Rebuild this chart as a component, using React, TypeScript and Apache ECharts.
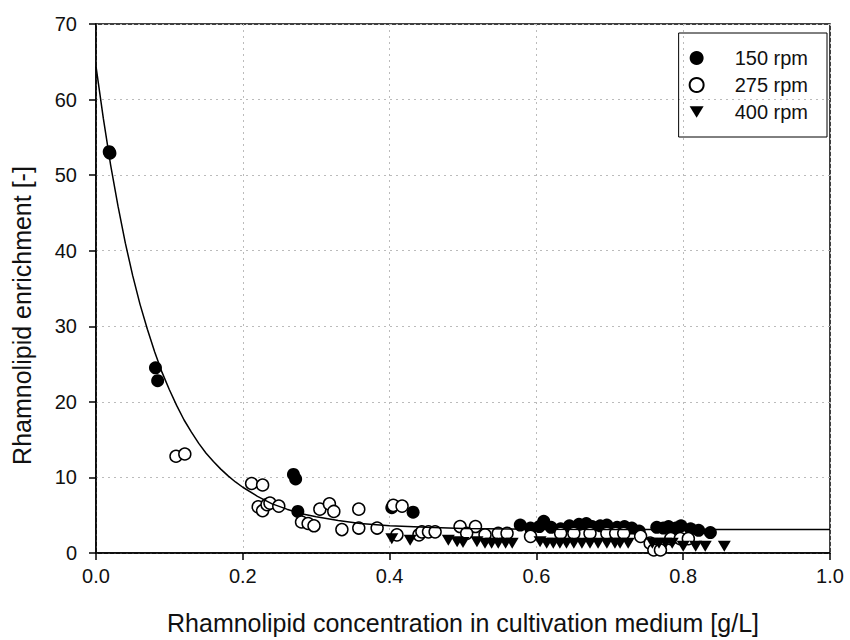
import React, { useEffect, useRef } from "react";
import * as echarts from "echarts";

// 150 rpm (filled circles): [concentration g/L, enrichment]
const rpm150: number[][] = [
  [0.018, 53.1], [0.019, 52.9],
  [0.081, 24.5], [0.084, 22.8],
  [0.269, 10.4], [0.272, 9.8], [0.275, 5.5],
  [0.403, 6.0], [0.432, 5.4],
  [0.578, 3.7], [0.592, 3.3], [0.604, 3.5], [0.61, 4.2], [0.62, 3.4], [0.633, 3.2],
  [0.645, 3.6], [0.658, 3.8], [0.668, 3.9], [0.676, 3.5], [0.687, 3.6], [0.696, 3.7],
  [0.71, 3.4], [0.72, 3.5], [0.73, 3.3], [0.74, 2.9], [0.764, 3.4], [0.773, 3.3],
  [0.78, 3.5], [0.79, 3.3], [0.797, 3.6], [0.81, 3.2], [0.821, 3.0], [0.837, 2.7],
];

// 275 rpm (open circles)
const rpm275: number[][] = [
  [0.109, 12.8], [0.121, 13.1],
  [0.212, 9.2], [0.227, 9.0],
  [0.221, 6.1], [0.227, 5.6], [0.233, 6.4], [0.237, 6.6], [0.249, 6.2],
  [0.28, 4.1], [0.289, 3.9], [0.297, 3.6], [0.305, 5.8], [0.318, 6.5], [0.324, 5.5],
  [0.335, 3.1], [0.358, 5.8], [0.358, 3.3], [0.383, 3.3],
  [0.405, 6.3], [0.417, 6.2], [0.41, 2.4], [0.44, 2.4], [0.444, 2.8], [0.453, 2.8], [0.462, 2.8],
  [0.496, 3.5], [0.517, 3.5], [0.505, 2.6], [0.53, 2.4], [0.548, 2.6], [0.56, 2.6],
  [0.592, 2.2], [0.633, 2.6], [0.651, 2.6], [0.673, 2.6], [0.696, 2.6], [0.708, 2.6],
  [0.719, 2.6], [0.742, 2.2], [0.755, 1.3], [0.76, 0.4], [0.769, 0.4], [0.783, 1.9],
  [0.796, 1.9], [0.807, 1.9],
];

// 400 rpm (filled down-triangles)
const rpm400: number[][] = [
  [0.403, 1.9], [0.428, 1.7], [0.48, 1.7], [0.492, 1.5], [0.5, 1.4], [0.519, 1.5],
  [0.53, 1.3], [0.539, 1.3], [0.548, 1.3], [0.558, 1.3], [0.567, 1.3], [0.605, 1.5],
  [0.614, 1.3], [0.623, 1.3], [0.632, 1.3], [0.641, 1.3], [0.651, 1.3], [0.662, 1.3],
  [0.673, 1.3], [0.684, 1.3], [0.696, 1.3], [0.707, 1.3], [0.714, 1.3], [0.725, 1.3],
  [0.758, 1.3], [0.767, 1.3], [0.776, 1.3], [0.785, 1.3], [0.8, 0.9], [0.817, 0.9],
  [0.83, 0.9], [0.856, 0.9],
];

// fitted curve
const fitX: number[] = [
  0, 0.01, 0.02, 0.03, 0.04, 0.05, 0.06, 0.07, 0.08, 0.09, 0.1, 0.11, 0.12, 0.13, 0.14,
  0.15, 0.16, 0.17, 0.18, 0.19, 0.2, 0.22, 0.24, 0.26, 0.28, 0.3, 0.33, 0.36, 0.4, 0.45,
  0.5, 0.6, 0.7, 0.8, 1.0,
];
const fitY: number[] = [
  64.4, 57.5, 51.3, 45.9, 41.0, 36.7, 32.9, 29.6, 26.6, 23.9, 21.6, 19.5, 17.6, 16.0, 14.5,
  13.2, 12.1, 11.1, 10.2, 9.4, 8.7, 7.5, 6.5, 5.8, 5.2, 4.8, 4.3, 3.9, 3.6, 3.4,
  3.25, 3.15, 3.1, 3.1, 3.1,
];

const legendNames: string[] = ["150 rpm", "275 rpm", "400 rpm"];

const FONT = "Liberation Sans, Arial, sans-serif";
const TRI_DOWN = "path://M0,0 L12,0 L6,10 Z";

export default function App() {
  const ref = useRef<HTMLDivElement>(null);
  useEffect(() => {
    if (!ref.current) return;
    const chart = echarts.init(ref.current, undefined, { renderer: "svg" });
    const option = {
      animation: false,
      backgroundColor: "#fff",
      textStyle: { fontFamily: FONT },
      grid: {
        left: 96, right: 20, top: 24, bottom: 87,
        show: true, borderColor: "#000", borderWidth: 1.5, backgroundColor: "transparent",
      },
      legend: {
        data: legendNames,
        orient: "vertical",
        right: 23,
        top: 33,
        borderColor: "#000",
        borderWidth: 1,
        padding: [15, 19, 15, 10],
        itemGap: 7,
        itemWidth: 14,
        itemHeight: 14,
        textStyle: { fontSize: 20, color: "#111", fontFamily: FONT, padding: [0, 0, 0, 26] },
      },
      xAxis: {
        type: "value",
        min: 0, max: 1, interval: 0.2,
        name: "Rhamnolipid concentration in cultivation medium [g/L]",
        nameLocation: "middle",
        nameGap: 57,
        nameTextStyle: { fontSize: 25, color: "#111", fontFamily: FONT },
        axisLine: { lineStyle: { color: "#000", width: 1.5 } },
        axisTick: { length: 7, lineStyle: { color: "#000", width: 1.5 } },
        axisLabel: { fontSize: 20, color: "#111", margin: 13, fontFamily: FONT, formatter: (v: number) => v.toFixed(1) },
        splitLine: { show: true, lineStyle: { type: [2, 4], color: "#bbb", width: 1 } },
      },
      yAxis: {
        type: "value",
        min: 0, max: 70, interval: 10,
        name: "Rhamnolipid enrichment [-]",
        nameLocation: "middle",
        nameGap: 62,
        nameTextStyle: { fontSize: 25, color: "#111", fontFamily: FONT, padding: [0, 54, 0, 0] },
        axisLine: { lineStyle: { color: "#000", width: 1.5 } },
        axisTick: { length: 7, lineStyle: { color: "#000", width: 1.5 } },
        axisLabel: { fontSize: 20, color: "#111", margin: 19, fontFamily: FONT },
        splitLine: { show: true, lineStyle: { type: [2, 4], color: "#bbb", width: 1 } },
      },
      series: [
        {
          name: legendNames[0], type: "scatter", data: rpm150,
          symbol: "circle", symbolSize: 13,
          itemStyle: { color: "#000", opacity: 1 }, z: 2,
        },
        {
          name: legendNames[1], type: "scatter", data: rpm275,
          symbol: "circle", symbolSize: 12,
          itemStyle: { color: "#fff", borderColor: "#000", borderWidth: 1.5, opacity: 1 }, z: 3,
        },
        {
          name: legendNames[2], type: "scatter", data: rpm400,
          symbol: TRI_DOWN, symbolSize: [13, 11],
          itemStyle: { color: "#000", opacity: 1 }, z: 4,
        },
        {
          name: "fit", type: "line", data: fitX.map((x, i) => [x, fitY[i]]),
          showSymbol: false, symbol: "none", smooth: false,
          lineStyle: { color: "#000", width: 1.5 }, z: 5, silent: true,
        },
      ],
    };
    chart.setOption(option as any);
    return () => chart.dispose();
  }, []);
  return (
    <div
      ref={ref}
      style={{ position: "fixed", left: 0, top: 0, width: 850, height: 640, background: "#fff" }}
    />
  );
}
